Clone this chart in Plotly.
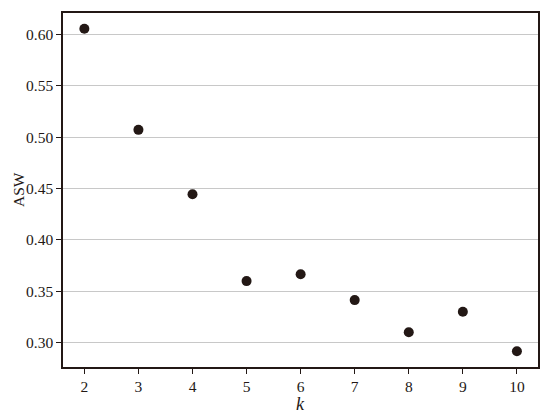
import plotly.graph_objects as go

# cluster count vs average silhouette width
k_values = [2, 3, 4, 5, 6, 7, 8, 9, 10]
asw = [0.6055, 0.5072, 0.4445, 0.3600, 0.3666, 0.3415, 0.3102, 0.3302, 0.2917]
y_ticks = [0.30, 0.35, 0.40, 0.45, 0.50, 0.55, 0.60]

font_family = "Liberation Serif"
ink = "#231815"

fig = go.Figure()
fig.add_trace(go.Scatter(
    x=k_values, y=asw, mode="markers",
    marker=dict(color=ink, size=10, line=dict(width=0)),
    showlegend=False,
))

# the page body has an 8px margin, so the figure is made 8px smaller
fig.update_layout(
    width=542, height=409,
    margin=dict(l=55, r=12, t=4.5, b=50),
    paper_bgcolor="white", plot_bgcolor="white",
    font=dict(family=font_family, size=15.5, color=ink),
)
fig.update_xaxes(
    range=[1.605, 10.39], tickvals=k_values,
    showgrid=False, zeroline=False, automargin=False,
    showline=True, linecolor=ink, linewidth=1.5, mirror=True,
    ticks="outside", ticklen=5, tickcolor=ink,
)
fig.update_yaxes(
    range=[0.2764, 0.6209], tickvals=y_ticks,
    tickformat=".2f", automargin=False,
    showgrid=True, gridcolor="#c8c8c8", gridwidth=1, zeroline=False,
    showline=True, linecolor=ink, linewidth=1.5, mirror=True,
    ticks="outside", ticklen=5, tickcolor=ink,
)

# axis titles
fig.add_annotation(text="<i>k</i>", xref="paper", yref="paper", x=0.5, y=0,
                   xanchor="center", yanchor="middle", yshift=-37,
                   showarrow=False, font=dict(size=18))
fig.add_annotation(text="ASW", xref="paper", yref="paper", x=0, y=0.5,
                   xanchor="center", yanchor="middle", xshift=-45, textangle=-90,
                   borderpad=0, showarrow=False, font=dict(size=15.5))

fig.write_html("out.html")
